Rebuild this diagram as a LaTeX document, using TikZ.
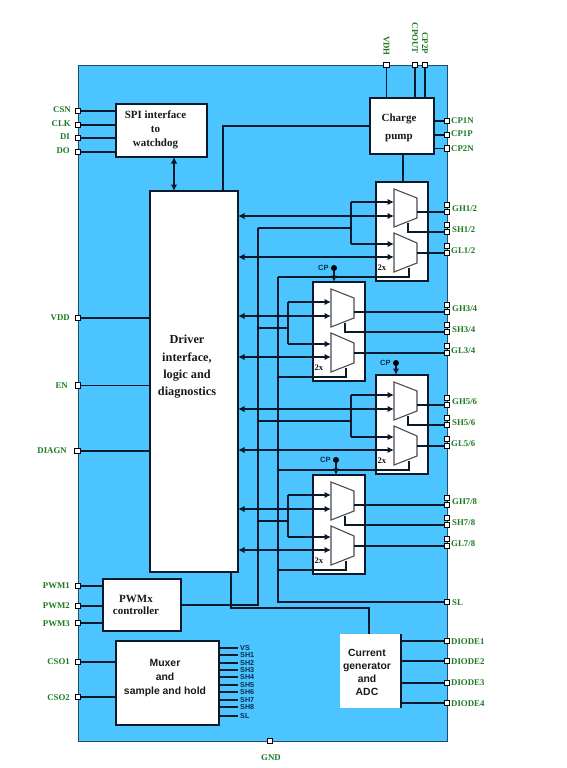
\documentclass[tikz,border=0pt]{standalone}
\usepackage{fontspec}
\setmainfont{Liberation Serif}
\setsansfont{Liberation Sans}
\usetikzlibrary{arrows.meta}
\definecolor{chipblue}{HTML}{4CC4FF}
\definecolor{labgreen}{HTML}{1E7A22}
\definecolor{linedark}{HTML}{0B1A2A}
\definecolor{sigblue}{HTML}{07304F}
\tikzset{
  chip/.style={draw=linedark!70!chipblue,fill=chipblue,line width=1pt},
  pinbox/.style={draw=black,fill=white,line width=1.1pt,minimum size=5.5pt,inner sep=0pt,outer sep=0pt},
  wire/.style={draw=linedark,line width=1.3pt},
  darrow/.style={wire,{Latex[length=6.5pt,width=6.5pt]}-{Latex[length=6.5pt,width=6.5pt]}},
  sarrow/.style={wire,-{Latex[length=6.5pt,width=6.5pt]}},
  blockbox/.style={draw=linedark,fill=white,line width=1.2pt,anchor=north west,inner sep=0pt,outer sep=0pt},
  muxshape/.style={draw=black!70,fill=white,line width=1.1pt},
  lab/.style={text=labgreen,font=\fontsize{8.8}{10}\selectfont\bfseries,inner sep=0pt},
  sig/.style={text=sigblue,font=\sffamily\fontsize{7.2}{8}\selectfont\bfseries,inner sep=0pt,anchor=west},
  title/.style={align=center,text=black!90,inner sep=0pt},
  rmtitle/.style={title,font=\fontsize{11}{14}\selectfont\bfseries},
  sftitle/.style={title,font=\sffamily\fontsize{10.4}{13}\selectfont\bfseries},
  small2x/.style={font=\fontsize{8.5}{10}\selectfont\bfseries,inner sep=0pt,text=black!90},
}
% name, left, top, pin suffix
\newcommand{\muxunit}[4]{%
  \node[blockbox,minimum width=52pt,minimum height=99pt] (#1box) at (#2,#3) {};
  \begin{scope}[shift={(#2,#3)}]
    \draw[muxshape] (18,7) -- (41,16) -- (41,36) -- (18,45) -- cycle;
    \draw[muxshape] (18,51) -- (41,61) -- (41,81) -- (18,90) -- cycle;
    \coordinate (#1i1) at (18,20);
    \coordinate (#1i2) at (18,34);
    \coordinate (#1i3) at (18,62);
    \coordinate (#1i4) at (18,75);
    \coordinate (#1bus) at (-25,46);
    \coordinate (#1ot) at (41,30);
    \coordinate (#1st) at (32,41);
    \coordinate (#1sb) at (32,50);
    \coordinate (#1ob) at (41,71);
    \coordinate (#1lt) at (33,86);
    \coordinate (#1lb) at (33,95);
    \node[small2x,anchor=west] (#1two) at (1.5,86) {2x};
  \end{scope}
  \pgfmathsetmacro{\pya}{#3+23}\pgfmathsetmacro{\pyb}{#3+30}
  \pgfmathsetmacro{\pyc}{#3+43}\pgfmathsetmacro{\pyd}{#3+50}
  \pgfmathsetmacro{\pye}{#3+64}\pgfmathsetmacro{\pyf}{#3+71}
  \node[pinbox] (#1ga) at (447,\pya) {};
  \node[pinbox] (#1gb) at (447,\pyb) {};
  \node[pinbox] (#1sa) at (447,\pyc) {};
  \node[pinbox] (#1sc) at (447,\pyd) {};
  \node[pinbox] (#1la) at (447,\pye) {};
  \node[pinbox] (#1lc) at (447,\pyf) {};
  \pgfmathsetmacro{\pyg}{#3+27}\pgfmathsetmacro{\pyh}{#3+48}\pgfmathsetmacro{\pyi}{#3+69}
  \node[lab,anchor=west] (#1tg) at (452,\pyg) {GH#4};
  \node[lab,anchor=west] (#1ts) at (452,\pyh) {SH#4};
  \node[lab,anchor=west] (#1tl) at (451,\pyi) {GL#4};
  \draw[sarrow] (#1bus |- #1i1) -- (#1i1);
  \draw[sarrow] (#1bus |- #1i3) -- (#1i3);
  \draw[wire] (#1bus |- #1i1) -- (#1bus |- #1i3);
  \draw[wire] (bus258 |- #1bus) -- (#1bus);
  \draw[darrow] (driver.east |- #1i2) -- (#1i2);
  \draw[darrow] (driver.east |- #1i4) -- (#1i4);
  \draw[wire] (#1ot) -- (#1ot -| #1gb.west);
  \draw[wire] (#1st) -- (#1sb) -- (#1sb -| #1sc.west);
  \draw[wire] (#1ob) -- (#1ob -| #1lc.west);
  \draw[wire] (#1lt) -- (#1lb) -- (bus278 |- #1lb);
}
% name, x, dot y
\newcommand{\cpmark}[3]{%
  \node[circle,fill=black,inner sep=0pt,minimum size=6pt] (#1dot) at (#2,#3) {};
  \node[text=sigblue,font=\sffamily\fontsize{7.5}{8}\selectfont\bfseries,inner sep=0pt,anchor=east] (#1cp) at ([xshift=-2pt]#1dot.west) {CP};
  \draw[sarrow] (#1dot) -- (#1dot |- #1box.north);
}
\begin{document}
\begin{tikzpicture}[x=1pt,y=-1pt]
\useasboundingbox (0,0) rectangle (566,768);
\node[chip,anchor=north west,minimum width=369pt,minimum height=675pt,inner sep=0pt,outer sep=0pt] (ic) at (78,66) {};

% blocks
\node[blockbox,minimum width=91pt,minimum height=53pt] (spi) at (116,104) {};
\node[blockbox,minimum width=88pt,minimum height=381pt] (driver) at (150,191) {};
\node[blockbox,minimum width=64pt,minimum height=56pt] (cpump) at (370,98) {};
\node[blockbox,minimum width=78pt,minimum height=52pt] (pwmx) at (103,579) {};
\node[blockbox,minimum width=103pt,minimum height=84pt,line width=1.6pt] (muxer) at (116,641) {};
\node[blockbox,draw=none,minimum width=61pt,minimum height=74pt] (curr) at (340,634) {};

% pins
\node[pinbox] (vdhp) at (386.5,65) {};
\node[pinbox] (cpoutp) at (415,65) {};
\node[pinbox] (cp2pp) at (425,65) {};
\node[pinbox] (cp1np) at (447,121) {};
\node[pinbox] (cp1pp) at (447,135) {};
\node[pinbox] (cp2np) at (447,148.5) {};
\node[pinbox] (csnp) at (78,111) {};
\node[pinbox] (clkp) at (78,125) {};
\node[pinbox] (dip) at (78,138) {};
\node[pinbox] (dop) at (78,152) {};
\node[pinbox] (vddp) at (78,318) {};
\node[pinbox] (enp) at (78,385.5) {};
\node[pinbox] (diagnp) at (77.5,451) {};
\node[pinbox] (pwmap) at (78,586) {};
\node[pinbox] (pwmbp) at (78,606) {};
\node[pinbox] (pwmcp) at (78,623) {};
\node[pinbox] (csoap) at (78,662) {};
\node[pinbox] (csobp) at (78,697) {};
\node[pinbox] (slp) at (447,602) {};
\node[pinbox] (dap) at (447,641) {};
\node[pinbox] (dbp) at (447,661) {};
\node[pinbox] (dcp) at (447,683) {};
\node[pinbox] (ddp) at (447,703) {};
\node[pinbox] (gndp) at (270,741) {};

% pin labels
\node[lab,rotate=-90,anchor=east] (vdht) at (386.5,56) {VDH};
\node[lab,rotate=-90,anchor=east] (cpoutt) at (415,54) {CPOUT};
\node[lab,rotate=-90,anchor=east] (cp2pt) at (425,54) {CP2P};
\node[lab,anchor=west] (cp1nt) at (451,120.5) {CP1N};
\node[lab,anchor=west] (cp1pt) at (451,134) {CP1P};
\node[lab,anchor=west] (cp2nt) at (451,149) {CP2N};
\node[lab,anchor=east] (csnt) at (71,109.5) {CSN};
\node[lab,anchor=east] (clkt) at (71,123.5) {CLK};
\node[lab,anchor=east] (dit) at (70,137) {DI};
\node[lab,anchor=east] (dot) at (70,151) {DO};
\node[lab,anchor=east] (vddt) at (70,318) {VDD};
\node[lab,anchor=east] (ent) at (68,385.5) {EN};
\node[lab,anchor=east] (diagnt) at (67,451) {DIAGN};
\node[lab,anchor=east] (pwmat) at (70,586) {PWM1};
\node[lab,anchor=east] (pwmbt) at (70,606) {PWM2};
\node[lab,anchor=east] (pwmct) at (70,623.5) {PWM3};
\node[lab,anchor=east] (csoat) at (70,662) {CSO1};
\node[lab,anchor=east] (csobt) at (70,698) {CSO2};
\node[lab,anchor=west] (slt) at (452,602.5) {SL};
\node[lab,anchor=west] (dat) at (451,641.5) {DIODE1};
\node[lab,anchor=west] (dbt) at (451,661.5) {DIODE2};
\node[lab,anchor=west] (dct) at (451,683) {DIODE3};
\node[lab,anchor=west] (ddt) at (451,703.5) {DIODE4};
\node[lab] (gndt) at (271,758) {GND};

% bus coordinates
\coordinate (bus258) at (258,228);
\coordinate (bus278) at (278,277);
\coordinate (cptap) at (223,191);
\coordinate (drvtap) at (231,572);
\coordinate (bendc) at (369,608);

% pin wires
\draw[wire] (vdhp.south) -- (vdhp.south |- cpump.north);
\draw[wire] (cpoutp.south) -- (cpoutp.south |- cpump.north);
\draw[wire] (cp2pp.south) -- (cp2pp.south |- cpump.north);
\foreach \p in {cp1np,cp1pp,cp2np}
  \draw[wire] (\p.west) -- (\p.west -| cpump.east);
\foreach \p in {csnp,clkp,dip,dop}
  \draw[wire] (\p.east) -- (\p.east -| spi.west);
\foreach \p in {vddp,enp,diagnp}
  \draw[wire] (\p.east) -- (\p.east -| driver.west);
\foreach \p in {pwmap,pwmbp,pwmcp}
  \draw[wire] (\p.east) -- (\p.east -| pwmx.west);
\foreach \p in {csoap,csobp}
  \draw[wire] (\p.east) -- (\p.east -| muxer.west);
\foreach \p in {dap,dbp,dcp,ddp}
  \draw[wire] (\p.west) -- (\p.west -| curr.east);

% buses
\draw[darrow] (spi.south -| 174,0) -- (driver.north -| 174,0);
\draw[wire] (cpump.west) -| (cptap);
\draw[wire] (bus258) -- (bus258 |- pwmx.east) -- (pwmx.east);
\draw[wire] (drvtap) -- (drvtap |- bendc) -- (bendc) -- (bendc |- curr.north);
\draw[wire] (bus278) -- (bus278 |- slp) -- (slp.west);
\draw[wire] (curr.north east) -- (curr.south east);

% driver blocks
\muxunit{ua}{376}{182}{1/2}
\muxunit{ub}{313}{282}{3/4}
\muxunit{uc}{376}{375}{5/6}
\muxunit{ud}{313}{475}{7/8}
\draw[wire] (cpump.south -| 403,0) -- (uabox.north -| 403,0);
\cpmark{ub}{334}{268}
\cpmark{uc}{396}{363}
\cpmark{ud}{336}{460}

% muxer signal stubs
\foreach \n/\yy/\t in {a/648/VS,b/655/SH1,c/663/SH2,d/670/SH3,e/677/SH4,f/685/SH5,g/692/SH6,h/700/SH7,i/707/SH8,j/716/SL}{
  \node[sig] (sig\n) at (240,\yy) {\t};
  \draw[wire] (sig\n.west -| muxer.east) -- ([xshift=-2pt]sig\n.west);
}

% block titles
\node[rmtitle] (spit) at (155.5,130) {SPI interface\\to\\watchdog};
\node[rmtitle,font=\fontsize{11}{17.5}\selectfont\bfseries] (cput) at (399,128) {Charge\\pump};
\node[title,font=\fontsize{12.3}{17.3}\selectfont\bfseries] (drvt) at (187,367) {Driver\\interface,\\logic and\\diagnostics};
\node[rmtitle,font=\fontsize{11}{12.5}\selectfont\bfseries] (pwmt) at (136,605) {PWMx\\controller};
\node[sftitle,font=\sffamily\fontsize{10.4}{14}\selectfont\bfseries] (muxt) at (165,678) {Muxer\\and\\sample and hold};
\node[sftitle] (curt) at (367,672) {Current\\generator\\and\\ADC};
\end{tikzpicture}
\end{document}
